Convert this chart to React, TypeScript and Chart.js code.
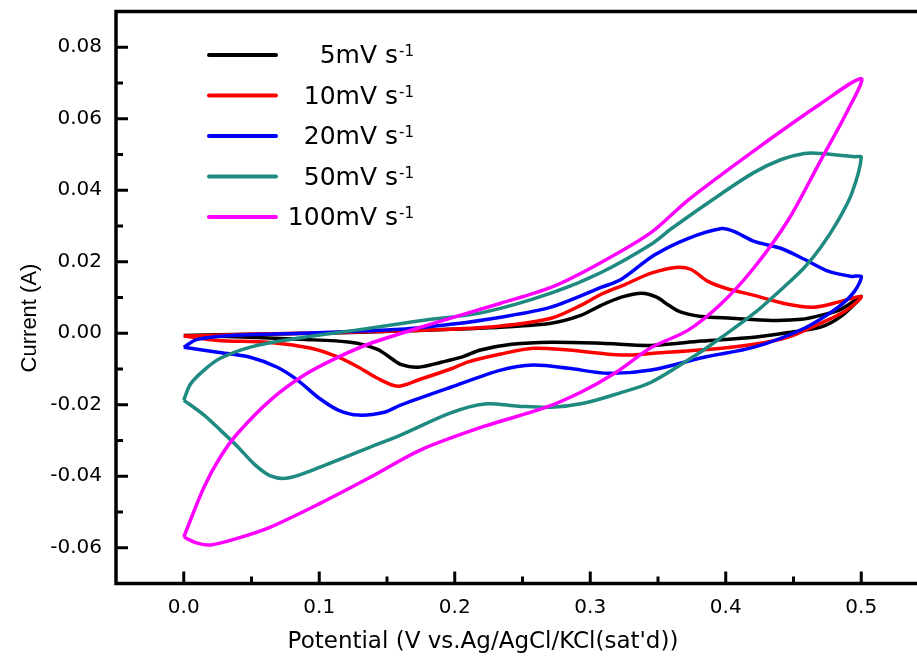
import React, { useEffect, useRef } from 'react';
import { Chart, registerables } from 'chart.js';

Chart.register(...registerables);

// ---- Data (Potential in V, Current in A) ----
const seriesLabels = ['5mV s', '10mV s', '20mV s', '50mV s', '100mV s'];
const seriesSup = '-1';
const seriesColors = ['#000000', '#ff0000', '#0000ff', '#1f8a80', '#ff00ff'];

const potential5 = [0.000, 0.049, 0.101, 0.160, 0.197, 0.234, 0.271, 0.293, 0.308, 0.323, 0.338, 0.349, 0.358, 0.367, 0.382, 0.404, 0.434, 0.456, 0.470, 0.485, 0.500, 0.485, 0.470, 0.448, 0.421, 0.382, 0.345, 0.308, 0.271, 0.242, 0.219, 0.205, 0.190, 0.173, 0.160, 0.153, 0.143, 0.123, 0.086, 0.049, 0.013, 0.000];
const current5 = [-0.0006, -0.0003, 0.0000, 0.0006, 0.0011, 0.0017, 0.0028, 0.0050, 0.0078, 0.0101, 0.0112, 0.0101, 0.0078, 0.0059, 0.0047, 0.0042, 0.0036, 0.0039, 0.0050, 0.0067, 0.0103, 0.0047, 0.0017, 0.0003, -0.0011, -0.0022, -0.0034, -0.0028, -0.0025, -0.0031, -0.0047, -0.0067, -0.0081, -0.0095, -0.0087, -0.0070, -0.0045, -0.0025, -0.0017, -0.0011, -0.0008, -0.0006];

const potential10 = [0.000, 0.049, 0.123, 0.197, 0.234, 0.271, 0.293, 0.308, 0.326, 0.345, 0.363, 0.374, 0.387, 0.400, 0.421, 0.446, 0.465, 0.483, 0.500, 0.489, 0.470, 0.446, 0.421, 0.397, 0.347, 0.323, 0.284, 0.258, 0.234, 0.210, 0.197, 0.175, 0.158, 0.143, 0.129, 0.114, 0.094, 0.062, 0.025, 0.000];
const current10 = [-0.0008, -0.0003, 0.0003, 0.0011, 0.0020, 0.0042, 0.0078, 0.0109, 0.0137, 0.0168, 0.0184, 0.0179, 0.0145, 0.0126, 0.0106, 0.0081, 0.0073, 0.0087, 0.0103, 0.0064, 0.0028, -0.0011, -0.0031, -0.0042, -0.0056, -0.0061, -0.0047, -0.0042, -0.0058, -0.0080, -0.0100, -0.0128, -0.0148, -0.0126, -0.0095, -0.0067, -0.0042, -0.0025, -0.0020, -0.0008];

const potential20 = [0.000, 0.010, 0.035, 0.086, 0.160, 0.197, 0.234, 0.271, 0.308, 0.323, 0.347, 0.372, 0.397, 0.406, 0.421, 0.441, 0.458, 0.476, 0.493, 0.500, 0.495, 0.483, 0.458, 0.421, 0.384, 0.345, 0.313, 0.284, 0.258, 0.234, 0.197, 0.160, 0.148, 0.129, 0.114, 0.099, 0.084, 0.069, 0.049, 0.025, 0.000];
const current20 = [-0.0039, -0.0017, -0.0006, 0.0000, 0.0011, 0.0025, 0.0045, 0.0073, 0.0128, 0.0151, 0.0218, 0.0265, 0.0293, 0.0285, 0.0257, 0.0237, 0.0207, 0.0173, 0.0159, 0.0159, 0.0117, 0.0073, 0.0014, -0.0039, -0.0067, -0.0103, -0.0112, -0.0098, -0.0089, -0.0103, -0.0151, -0.0201, -0.0221, -0.0229, -0.0215, -0.0179, -0.0131, -0.0095, -0.0067, -0.0053, -0.0039];

const potential50 = [0.000, 0.005, 0.015, 0.027, 0.052, 0.089, 0.126, 0.173, 0.222, 0.271, 0.308, 0.345, 0.360, 0.397, 0.421, 0.441, 0.458, 0.470, 0.495, 0.500, 0.493, 0.483, 0.470, 0.458, 0.446, 0.421, 0.397, 0.380, 0.345, 0.321, 0.295, 0.271, 0.247, 0.222, 0.197, 0.160, 0.138, 0.101, 0.077, 0.064, 0.052, 0.040, 0.027, 0.015, 0.000];
const current50 = [-0.0187, -0.0142, -0.0103, -0.0070, -0.0036, -0.0011, 0.0008, 0.0034, 0.0059, 0.0112, 0.0170, 0.0249, 0.0293, 0.0391, 0.0450, 0.0486, 0.0503, 0.0503, 0.0494, 0.0492, 0.0391, 0.0316, 0.0240, 0.0184, 0.0140, 0.0056, -0.0011, -0.0056, -0.0137, -0.0168, -0.0196, -0.0207, -0.0204, -0.0198, -0.0223, -0.0285, -0.0318, -0.0374, -0.0405, -0.0399, -0.0366, -0.0318, -0.0271, -0.0229, -0.0187];

const potential100 = [0.000, 0.015, 0.027, 0.040, 0.064, 0.089, 0.114, 0.138, 0.175, 0.234, 0.271, 0.308, 0.345, 0.372, 0.421, 0.470, 0.500, 0.490, 0.470, 0.446, 0.421, 0.397, 0.372, 0.345, 0.318, 0.293, 0.266, 0.222, 0.175, 0.138, 0.101, 0.064, 0.040, 0.020, 0.010, 0.000];
const current100 = [-0.0570, -0.0430, -0.0346, -0.0279, -0.0187, -0.0117, -0.0067, -0.0028, 0.0017, 0.0084, 0.0128, 0.0198, 0.0282, 0.0372, 0.0511, 0.0642, 0.0712, 0.0623, 0.0483, 0.0316, 0.0184, 0.0084, 0.0008, -0.0040, -0.0112, -0.0165, -0.0209, -0.0260, -0.0326, -0.0402, -0.0475, -0.0542, -0.0573, -0.0592, -0.0587, -0.0570];

const potentials = [potential5, potential10, potential20, potential50, potential100];
const currents = [current5, current10, current20, current50, current100];

const xTickValues = [0, 0.1, 0.2, 0.3, 0.4, 0.5];
const xMinorTicks = [0.05, 0.15, 0.25, 0.35, 0.45];
const yTickValues = [-0.06, -0.04, -0.02, 0, 0.02, 0.04, 0.06, 0.08];
const yMinorTicks = [-0.05, -0.03, -0.01, 0.01, 0.03, 0.05, 0.07];
const xTitle = "Potential (V vs.Ag/AgCl/KCl(sat'd))";
const yTitle = 'Current (A)';

const decorPlugin = {
  id: 'decor',
  afterDatasetsDraw(chart: any) {
    const { ctx, chartArea: ca, scales } = chart;
    const xs = scales.x;
    const ys = scales.y;
    ctx.save();
    ctx.strokeStyle = '#000';
    ctx.lineWidth = 3.5;
    ctx.lineJoin = 'miter';
    ctx.beginPath();
    ctx.moveTo(ca.right + 5, ca.top);
    ctx.lineTo(ca.left, ca.top);
    ctx.lineTo(ca.left, ca.bottom);
    ctx.lineTo(ca.right + 5, ca.bottom);
    ctx.stroke();

    ctx.lineWidth = 3;
    ctx.lineCap = 'butt';
    ctx.beginPath();
    yTickValues.forEach((v) => {
      const y = ys.getPixelForValue(v);
      ctx.moveTo(ca.left, y);
      ctx.lineTo(ca.left + 12, y);
    });
    yMinorTicks.forEach((v) => {
      const y = ys.getPixelForValue(v);
      ctx.moveTo(ca.left, y);
      ctx.lineTo(ca.left + 7, y);
    });
    xTickValues.forEach((v) => {
      const x = xs.getPixelForValue(v);
      ctx.moveTo(x, ca.bottom);
      ctx.lineTo(x, ca.bottom - 12);
    });
    xMinorTicks.forEach((v) => {
      const x = xs.getPixelForValue(v);
      ctx.moveTo(x, ca.bottom);
      ctx.lineTo(x, ca.bottom - 7);
    });
    ctx.stroke();
    ctx.restore();
  },
  afterDraw(chart: any) {
    const { ctx } = chart;
    ctx.save();
    ctx.fillStyle = '#000';
    // axis titles
    ctx.font = '23px "DejaVu Sans"';
    ctx.textAlign = 'center';
    ctx.textBaseline = 'alphabetic';
    ctx.fillText(xTitle, 483, 648);
    ctx.save();
    ctx.translate(36, 318);
    ctx.rotate(-Math.PI / 2);
    ctx.font = '22px "Liberation Sans"';
    ctx.fillText(yTitle, 0, 0);
    ctx.restore();

    // legend
    chart.data.datasets.forEach((ds: any, i: number) => {
      const cy = 55 + i * 40.5;
      ctx.strokeStyle = ds.borderColor;
      ctx.lineWidth = 4;
      ctx.lineCap = 'round';
      ctx.beginPath();
      ctx.moveTo(209, cy);
      ctx.lineTo(276, cy);
      ctx.stroke();
      ctx.fillStyle = '#000';
      ctx.font = '25px "DejaVu Sans"';
      ctx.textAlign = 'right';
      ctx.textBaseline = 'alphabetic';
      ctx.fillText(ds.label, 398, cy + 8);
      ctx.font = '15px "DejaVu Sans"';
      ctx.textAlign = 'left';
      ctx.fillText(seriesSup, 399, cy + 1);
    });
    ctx.restore();
  },
};

export default function App() {
  const canvasRef = useRef<HTMLCanvasElement | null>(null);

  useEffect(() => {
    if (!canvasRef.current) return;
    const datasets = seriesLabels.map((label, i) => ({
      label,
      data: potentials[i].map((x, j) => ({ x, y: currents[i][j] })),
      borderColor: seriesColors[i],
      backgroundColor: seriesColors[i],
      borderWidth: 3.5,
      pointRadius: 0,
      showLine: true,
      fill: false,
      tension: 0.3,
      order: seriesLabels.length - i,
    }));

    const chart = new Chart(canvasRef.current, {
      type: 'scatter',
      data: { datasets },
      options: {
        responsive: false,
        animation: false,
        devicePixelRatio: 1,
        layout: { padding: { top: 11.5, left: 0, right: 0, bottom: 0 } },
        plugins: { legend: { display: false }, tooltip: { enabled: false } },
        scales: {
          x: {
            type: 'linear',
            min: -0.05,
            max: 0.55,
            grid: { display: false, drawTicks: false },
            border: { display: false },
            afterBuildTicks: (s: any) => {
              s.ticks = xTickValues.map((v) => ({ value: v }));
            },
            afterFit: (s: any) => {
              s.height = 83.5;
              s.paddingLeft = 0;
              s.paddingRight = 0;
            },
            ticks: {
              padding: 12,
              autoSkip: false,
              maxRotation: 0,
              color: '#000',
              font: { family: 'DejaVu Sans', size: 20 },
              callback: (v: any) => Number(v).toFixed(1),
            },
          },
          y: {
            type: 'linear',
            min: -0.07,
            max: 0.09,
            grid: { display: false, drawTicks: false },
            border: { display: false },
            afterBuildTicks: (s: any) => {
              s.ticks = yTickValues.map((v) => ({ value: v }));
            },
            afterFit: (s: any) => {
              s.width = 116;
              s.paddingTop = 0;
              s.paddingBottom = 0;
            },
            ticks: {
              padding: 14,
              autoSkip: false,
              color: '#000',
              font: { family: 'DejaVu Sans', size: 20 },
              callback: (v: any) => Number(v).toFixed(2),
            },
          },
        },
      },
      plugins: [decorPlugin],
    });
    return () => chart.destroy();
  }, []);

  return (
    <div
      style={{
        position: 'fixed',
        left: 0,
        top: 0,
        width: 917,
        height: 667,
        overflow: 'hidden',
        background: '#fff',
      }}
    >
      <canvas ref={canvasRef} width={929} height={667} style={{ display: 'block' }} />
    </div>
  );
}
